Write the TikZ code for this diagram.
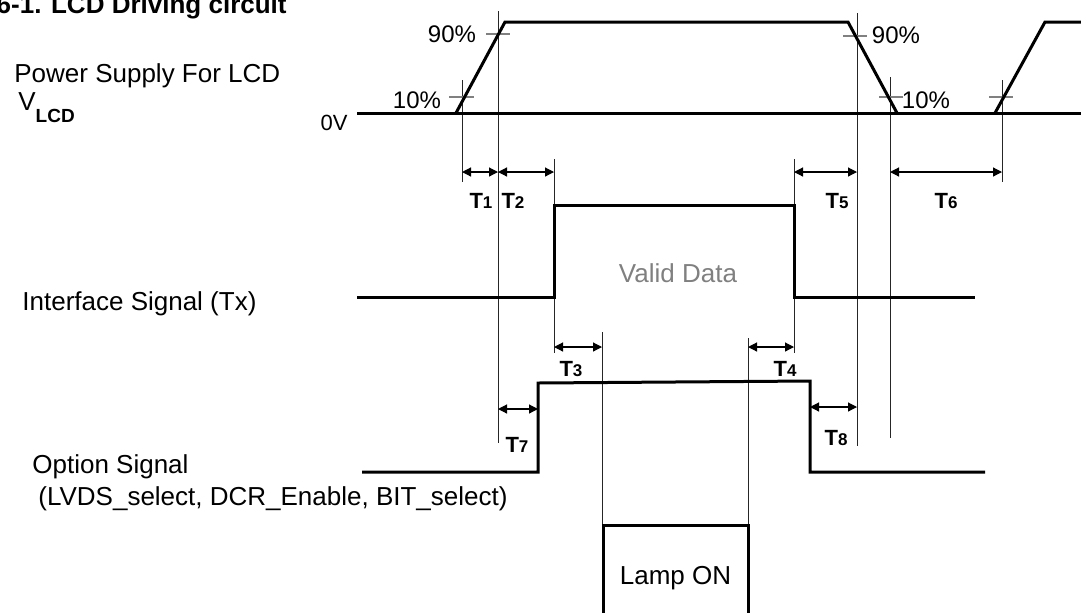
\documentclass[tikz,border=0pt]{standalone}
\usepackage{fontspec}
\setmainfont{Liberation Sans}
\usetikzlibrary{arrows.meta}
\tikzset{
  wave/.style={line width=1.5pt,line join=miter},
  guide/.style={line width=0.5pt,draw=black!85},
  tickmark/.style={line width=0.7pt,draw=black!50},
  span/.style={{Triangle[length=4.5pt,width=4.5pt]}-{Triangle[length=4.5pt,width=4.5pt]},line width=0.6pt},
  sig/.style={font=\fontsize{13}{15}\selectfont,inner sep=0pt},
  pct/.style={font=\fontsize{12}{14}\selectfont,inner sep=0pt},
  tlbl/.style={font=\fontsize{11}{13}\selectfont\bfseries,inner sep=0pt,anchor=base}
}
\newcommand{\tname}[1]{T{\fontsize{8.5}{10}\selectfont #1}}
\begin{document}
\begin{tikzpicture}[x=0.5pt,y=-0.5pt]
  \useasboundingbox (0,0) rectangle (1081,612);
  \clip (0,0) rectangle (1081,612);

  % labels on the left
  \node[anchor=base east,font=\fontsize{13}{15}\selectfont\bfseries,inner sep=0pt] (title) at (287,13) {6-1. LCD Driving circuit};
  \node[sig,anchor=base west] (psu) at (14,82) {Power Supply For LCD};
  \node[sig,anchor=base west] (vlcd) at (18,110) {V\raisebox{-6pt}{\fontsize{9.5}{11}\selectfont\bfseries LCD}};
  \node[anchor=base east,font=\fontsize{11}{13}\selectfont,inner sep=0pt] (zero) at (348,130) {0V};
  \node[sig,anchor=base west] (iface) at (22,310) {Interface Signal (Tx)};
  \node[sig,anchor=base west] (opt) at (32,473) {Option Signal};
  \node[sig,anchor=base west] (optsel) at (38,505) {(LVDS\_select, DCR\_Enable, BIT\_select)};

  % guide lines
  \foreach \x/\ya/\yb in {462/80/182, 498/11/443, 554/159/353, 602/332/525,
                          748/338/525, 794/159/353, 857/13/446, 890/77/438, 1002/80/182}
    \draw[guide] (\x,\ya) -- (\x,\yb);

  % 10% / 90% marks
  \draw[tickmark] (486,34) -- (510,34);
  \draw[tickmark] (449,97) -- (474,97);
  \draw[tickmark] (843,36) -- (867,36);
  \draw[tickmark] (879,97) -- (903,97);
  \draw[tickmark] (989,97) -- (1013,97);
  \node[pct] (r90) at (452,34) {90\%};
  \node[pct] (r10) at (417,100) {10\%};
  \node[pct] (f90) at (896,35) {90\%};
  \node[pct] (f10) at (926,100) {10\%};

  % waveforms
  \draw[wave] (357,113) -- (1090,113);
  \draw[wave] (456,113) -- (505,22) -- (848,22) -- (897,113);
  \draw[wave] (995,113) -- (1045,22) -- (1090,22);
  \draw[wave] (357,297) -- (554,297) -- (554,205) -- (794,205) -- (794,297) -- (975,297);
  \draw[wave] (362,472) -- (538,472) -- (538,383) -- (810,381) -- (810,472) -- (985,472);
  \draw[wave] (603,625) -- (603,525) -- (748,525) -- (748,625);
  \node[sig,text=black!50] (valid) at (678,273) {Valid Data};
  \node[sig,anchor=base] (lamp) at (675.5,584) {Lamp ON};

  % timing marks
  \coordinate (a1) at (462,172);  \coordinate (a2) at (498,172);
  \coordinate (a3) at (554,172);  \coordinate (a5) at (794,172);
  \coordinate (a6) at (857,172);  \coordinate (a7) at (890,172);
  \coordinate (a8) at (1002,172);
  \coordinate (b1) at (554,347);  \coordinate (b2) at (602,347);
  \coordinate (b3) at (748,347);  \coordinate (b4) at (794,347);
  \coordinate (c1) at (498,409);  \coordinate (c2) at (538,409);
  \coordinate (c3) at (810,407);  \coordinate (c4) at (857,407);
  \draw[span] (a1) -- (a2);
  \draw[span] (a2) -- (a3);
  \draw[span] (a5) -- (a6);
  \draw[span] (a7) -- (a8);
  \draw[span] (b1) -- (b2);
  \draw[span] (b3) -- (b4);
  \draw[span] (c1) -- (c2);
  \draw[span] (c3) -- (c4);
  \node[tlbl] (t1) at (481,208) {\tname{1}};
  \node[tlbl] (t2) at (513,208) {\tname{2}};
  \node[tlbl] (t3) at (571,376) {\tname{3}};
  \node[tlbl] (t4) at (785,376) {\tname{4}};
  \node[tlbl] (t5) at (837,208) {\tname{5}};
  \node[tlbl] (t6) at (946,208) {\tname{6}};
  \node[tlbl] (t7) at (517,452) {\tname{7}};
  \node[tlbl] (t8) at (836,445) {\tname{8}};
\end{tikzpicture}
\end{document}
